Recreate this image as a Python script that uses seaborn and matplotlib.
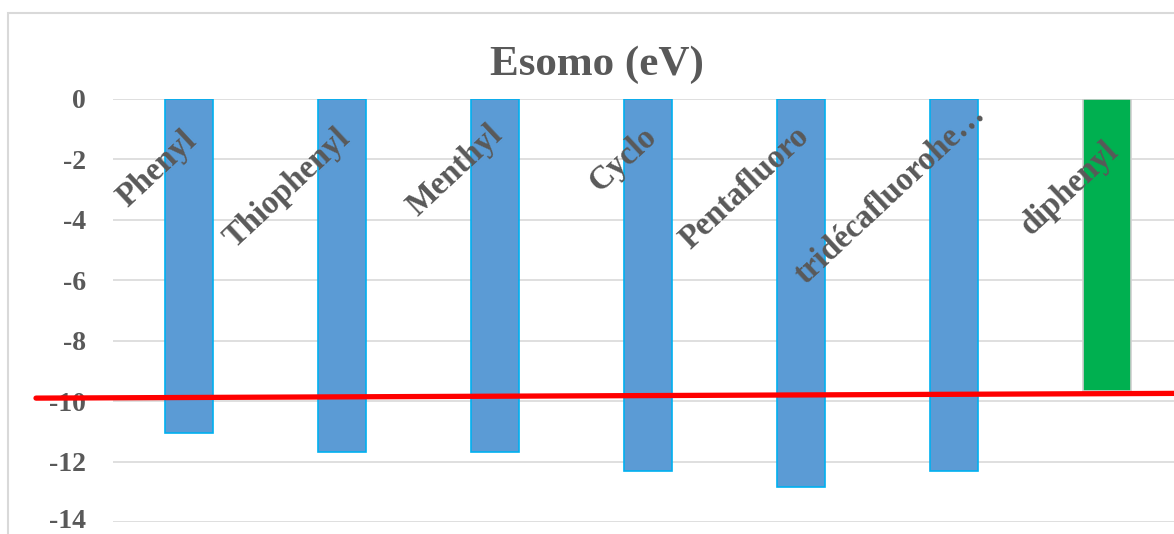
import seaborn as sns
import pandas as pd
import matplotlib.pyplot as plt
import matplotlib.transforms as mtransforms
from matplotlib.patches import Rectangle

categories = ["Phenyl", "Thiophenyl", "Menthyl", "Cyclo", "Pentafluoro",
              "tridécafluorohe…", "diphenyl"]
esomo = [-11.06, -11.69, -11.69, -12.32, -12.85, -12.32, -9.65]
bar_colors = ["#5B9BD5"] * 6 + ["#00B050"]
edge_colors = ["#00B0F0"] * 6 + ["#D0D0D0"]
yticks = [0, -2, -4, -6, -8, -10, -12, -14]

# red reference line (drawn shape in the original), x in category units
ref_x = [-1.0, 6.6]
ref_y = [-9.9, -9.74]

# where each rotated label ends (baseline end), relative to its bar
label_dx = [0.06, 0.06, 0.055, 0.065, 0.065, 0.21, 0.08]
label_y = [-1.45, -1.36, -1.23, -1.3, -1.3, -0.56, -1.78]

df = pd.DataFrame({"cat": categories, "val": esomo})

sns.set_style("white")
plt.rcParams["font.family"] = ["Liberation Serif", "DejaVu Serif"]
grey = "#595959"

fig = plt.figure(figsize=(11.74, 5.34), dpi=100)
ax = fig.add_axes([112.5 / 1174, 1 - 522 / 534, 7 * 153 / 1174, (522 - 99) / 534])

sns.barplot(data=df, x="cat", y="val", hue="cat", palette=bar_colors,
            saturation=1, width=0.31, legend=False, ax=ax, zorder=2)
for p, ec in zip(ax.patches, edge_colors):
    p.set_edgecolor(ec)
    p.set_linewidth(1.2)

ax.set_ylim(-14, 0)
ax.set_xlim(-0.5, 6.5)
ax.set_yticks(yticks)
ax.set_yticklabels([str(t) for t in yticks], fontsize=20, fontweight="bold", color=grey)
ax.tick_params(axis="y", length=0, pad=19)
# nudge the bottom label up a little so it stays inside the picture
lab14 = ax.get_yticklabels()[-1]
lab14.set_transform(lab14.get_transform()
                    + mtransforms.ScaledTranslation(0, 4 / 100, fig.dpi_scale_trans))
ax.set_xticks([])
ax.set_xlabel("")
ax.set_ylabel("")
ax.grid(axis="y", color="#D9D9D9", linewidth=1.2, zorder=0)
ax.set_axisbelow(True)
for s in ax.spines.values():
    s.set_visible(False)

# rotated category labels hanging under the zero line
for i, name in enumerate(categories):
    ax.text(i + label_dx[i], label_y[i], name, rotation=43, rotation_mode="anchor",
            ha="right", va="baseline", fontsize=23.5, fontweight="bold", color=grey,
            zorder=3)

ax.plot(ref_x, ref_y, color="#FF0000", linewidth=3.8, clip_on=False, zorder=4)

fig.text(597 / 1174, 1 - 65 / 534, "Esomo (eV)", ha="center", va="center",
         fontsize=31, fontweight="bold", color=grey)

# chart area border
fig.patches.append(Rectangle((8 / 1174, -0.1), 1.2, 1 - 13 / 534 + 0.1,
                             transform=fig.transFigure, fill=False,
                             edgecolor="#D9D9D9", linewidth=1.5))

fig.savefig("out.png", dpi=100)
